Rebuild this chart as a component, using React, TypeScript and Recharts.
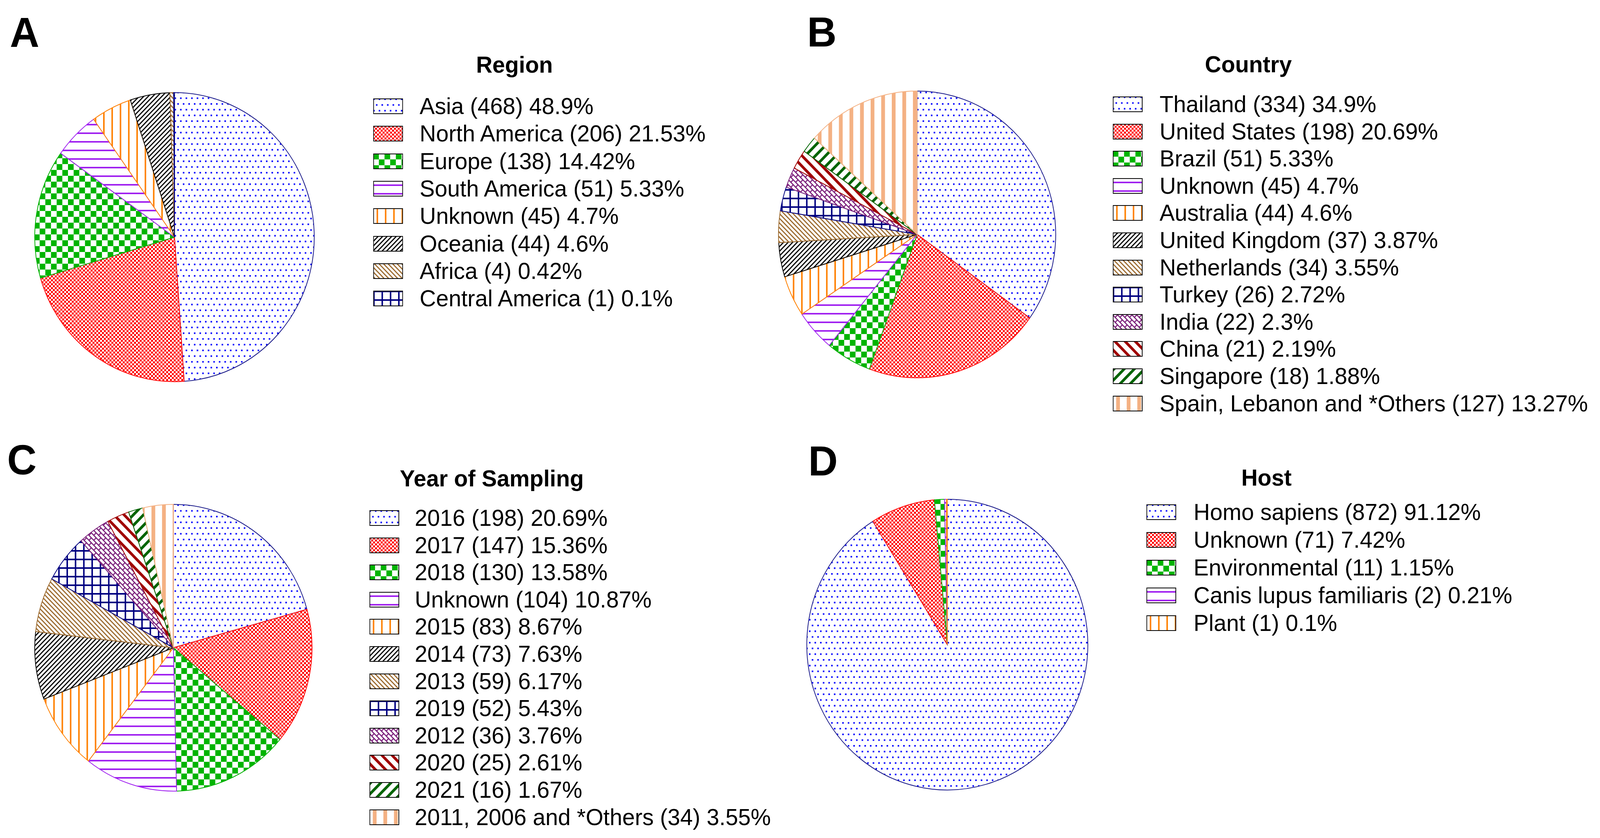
import React from 'react';
import { PieChart, Pie, Cell } from 'recharts';

// ---------- data ----------
const regionNames = ['Asia', 'North America', 'Europe', 'South America', 'Unknown', 'Oceania', 'Africa', 'Central America'];
const regionValues = [468, 206, 138, 51, 45, 44, 4, 1];

const countryNames = ['Thailand', 'United States', 'Brazil', 'Unknown', 'Australia', 'United Kingdom', 'Netherlands', 'Turkey', 'India', 'China', 'Singapore', 'Spain, Lebanon and *Others'];
const countryValues = [334, 198, 51, 45, 44, 37, 34, 26, 22, 21, 18, 127];

const yearNames = ['2016', '2017', '2018', 'Unknown', '2015', '2014', '2013', '2019', '2012', '2020', '2021', '2011, 2006 and *Others'];
const yearValues = [198, 147, 130, 104, 83, 73, 59, 52, 36, 25, 16, 34];

const hostNames = ['Homo sapiens', 'Unknown', 'Environmental', 'Canis lupus familiaris', 'Plant'];
const hostValues = [872, 71, 11, 2, 1];

const panelTitles = ['Region', 'Country', 'Year of Sampling', 'Host'];
const panelLetters = ['A', 'B', 'C', 'D'];

// ---------- styles ----------
const sliceStrokes = ['#1c1c8a', '#ff0000', '#00b000', '#a020f0', '#ff8000', '#000000', '#9c6a2e', '#000080', '#7a1f7a', '#a00000', '#006400', '#f4b183'];

const FONT = '"Liberation Sans", Arial, Helvetica, sans-serif';

// design canvas (reference size) and the real viewport width it is fitted into
const DESIGN_W = 4236;
const DESIGN_H = 2145;

type Layout = {
  cx: number; cy: number; r: number;
  boxX: number; textX: number; y0: number; dy: number;
  titleX: number; titleY: number;
  letterX: number; letterY: number;
};

const layouts: Layout[] = [
  { cx: 462, cy: 607, r: 370, boxX: 988, textX: 1111, y0: 272, dy: 70.3, titleX: 1362, titleY: 166, letterX: 26, letterY: 83 },
  { cx: 2428, cy: 600, r: 367, boxX: 2946, textX: 3070, y0: 267, dy: 69.6, titleX: 3305, titleY: 165, letterX: 2137, letterY: 82 },
  { cx: 459, cy: 1658, r: 367, boxX: 978, textX: 1098, y0: 1326, dy: 69.6, titleX: 1302, titleY: 1225, letterX: 19, letterY: 1177 },
  { cx: 2508, cy: 1650, r: 372, boxX: 3035, textX: 3160, y0: 1311, dy: 71, titleX: 3353, titleY: 1223, letterX: 2140, letterY: 1180 },
];

function buildData(names: string[], values: number[]) {
  const total = values.reduce((a, b) => a + b, 0);
  return names.map((n, i) => ({
    name: n,
    value: values[i],
    pct: parseFloat(((values[i] / total) * 100).toFixed(2)),
  }));
}

const datasets = [
  buildData(regionNames, regionValues),
  buildData(countryNames, countryValues),
  buildData(yearNames, yearValues),
  buildData(hostNames, hostValues),
];

function PatternDefs() {
  return (
    <svg width="0" height="0" style={{ position: 'absolute', left: 0, top: 0 }}>
      <defs>
        <pattern id="pat0" patternUnits="userSpaceOnUse" width="14.67" height="29.34">
          <rect width="14.67" height="29.34" fill="#fff" />
          <rect x="0" y="0" width="4" height="4" fill="#0000ff" />
          <rect x="7.33" y="14.67" width="4" height="4" fill="#0000ff" />
        </pattern>
        <pattern id="pat1" patternUnits="userSpaceOnUse" width="10" height="10">
          <rect width="10" height="10" fill="#fff" />
          <rect x="0" y="0" width="5" height="5" fill="#ff0000" />
          <rect x="5" y="5" width="5" height="5" fill="#ff0000" />
        </pattern>
        <pattern id="pat2" patternUnits="userSpaceOnUse" width="30" height="30">
          <rect width="30" height="30" fill="#fff" />
          <rect x="0" y="0" width="15" height="15" fill="#00b400" />
          <rect x="15" y="15" width="15" height="15" fill="#00b400" />
        </pattern>
        <pattern id="pat3" patternUnits="userSpaceOnUse" width="22" height="22">
          <rect width="22" height="22" fill="#fff" />
          <rect x="0" y="9" width="22" height="4" fill="#a020f0" />
        </pattern>
        <pattern id="pat4" patternUnits="userSpaceOnUse" width="22" height="22">
          <rect width="22" height="22" fill="#fff" />
          <rect x="9" y="0" width="4" height="22" fill="#ff8000" />
        </pattern>
        <pattern id="pat5" patternUnits="userSpaceOnUse" width="8.5" height="8.5" patternTransform="rotate(45)">
          <rect width="8.5" height="8.5" fill="#fff" />
          <rect x="0" y="0" width="3" height="8.5" fill="#000" />
        </pattern>
        <pattern id="pat6" patternUnits="userSpaceOnUse" width="8.5" height="8.5" patternTransform="rotate(-45)">
          <rect width="8.5" height="8.5" fill="#fff" />
          <rect x="0" y="0" width="3" height="8.5" fill="#9c6a2e" />
        </pattern>
        <pattern id="pat7" patternUnits="userSpaceOnUse" width="22" height="22">
          <rect width="22" height="22" fill="#fff" />
          <rect x="0" y="0" width="22" height="4" fill="#000080" />
          <rect x="0" y="0" width="4" height="22" fill="#000080" />
        </pattern>
        <pattern id="pat8" patternUnits="userSpaceOnUse" width="18" height="18" patternTransform="rotate(45)">
          <rect width="18" height="18" fill="#fff" />
          <rect x="0" y="0" width="18" height="2.8" fill="#7a1f7a" />
          <rect x="0" y="9" width="18" height="2.8" fill="#7a1f7a" />
          <rect x="0" y="0" width="2.8" height="9" fill="#7a1f7a" />
          <rect x="9" y="9" width="2.8" height="9" fill="#7a1f7a" />
        </pattern>
        <pattern id="pat9" patternUnits="userSpaceOnUse" width="19" height="19" patternTransform="rotate(-45)">
          <rect width="19" height="19" fill="#fff" />
          <rect x="0" y="0" width="7" height="19" fill="#a00000" />
        </pattern>
        <pattern id="pat10" patternUnits="userSpaceOnUse" width="19" height="19" patternTransform="rotate(45)">
          <rect width="19" height="19" fill="#fff" />
          <rect x="0" y="0" width="7" height="19" fill="#006400" />
        </pattern>
        <pattern id="pat11" patternUnits="userSpaceOnUse" width="28" height="28">
          <rect width="28" height="28" fill="#fff" />
          <rect x="9" y="0" width="10" height="28" fill="#f4b183" />
        </pattern>
      </defs>
    </svg>
  );
}

function Legend({ idx }: { idx: number }) {
  const L = layouts[idx];
  const data = datasets[idx];
  const boxW = 79;
  const boxH = 40;
  return (
    <>
      {data.map((d, i) => {
        const yc = L.y0 + i * L.dy;
        return (
          <React.Fragment key={d.name}>
            <svg
              width={boxW}
              height={boxH}
              style={{ position: 'absolute', left: L.boxX, top: yc - boxH / 2 }}
            >
              <rect x={1} y={1} width={boxW - 2} height={boxH - 2} fill={`url(#pat${i})`} stroke="#000" strokeWidth={2} />
            </svg>
            <div
              style={{
                position: 'absolute',
                left: L.textX,
                top: yc,
                transform: 'translateY(-50%)',
                fontSize: 60,
                lineHeight: 1,
                whiteSpace: 'nowrap',
                color: '#000',
              }}
            >
              {`${d.name} (${d.value}) ${d.pct}%`}
            </div>
          </React.Fragment>
        );
      })}
      <div
        style={{
          position: 'absolute',
          left: L.titleX,
          top: L.titleY,
          transform: 'translate(-50%, -50%)',
          fontSize: 60,
          fontWeight: 'bold',
          lineHeight: 1,
          whiteSpace: 'nowrap',
        }}
      >
        {panelTitles[idx]}
      </div>
      <div
        style={{
          position: 'absolute',
          left: L.letterX,
          top: L.letterY,
          transform: 'translateY(-50%)',
          fontSize: 108,
          fontWeight: 'bold',
          lineHeight: 1,
        }}
      >
        {panelLetters[idx]}
      </div>
    </>
  );
}

export default function App() {
  const viewW = typeof window !== 'undefined' && window.innerWidth > 0 ? Math.min(window.innerWidth, DESIGN_W) : DESIGN_W;
  const sx = viewW / DESIGN_W;
  return (
    <div
      style={{
        position: 'absolute',
        left: 0,
        top: 0,
        width: viewW,
        height: DESIGN_H,
        overflow: 'hidden',
        background: '#fff',
      }}
    >
      <div
        style={{
          position: 'absolute',
          left: 0,
          top: 0,
          width: DESIGN_W,
          height: DESIGN_H,
          background: '#fff',
          fontFamily: FONT,
          transform: `scale(${sx}, 1)`,
          transformOrigin: '0 0',
        }}
      >
        <PatternDefs />
        <div style={{ position: 'absolute', left: 0, top: 0 }}>
          <PieChart width={DESIGN_W} height={DESIGN_H} margin={{ top: 0, right: 0, bottom: 0, left: 0 }}>
            {datasets.map((data, k) => (
              <Pie
                key={k}
                data={data}
                dataKey="value"
                nameKey="name"
                cx={layouts[k].cx}
                cy={layouts[k].cy}
                outerRadius={layouts[k].r}
                innerRadius={0}
                startAngle={90}
                endAngle={-270}
                isAnimationActive={false}
                label={false}
                labelLine={false}
              >
                {data.map((d, i) => (
                  <Cell key={d.name} fill={`url(#pat${i})`} stroke={sliceStrokes[i]} strokeWidth={2} />
                ))}
              </Pie>
            ))}
          </PieChart>
        </div>
        {layouts.map((_, k) => (
          <Legend key={k} idx={k} />
        ))}
      </div>
    </div>
  );
}
